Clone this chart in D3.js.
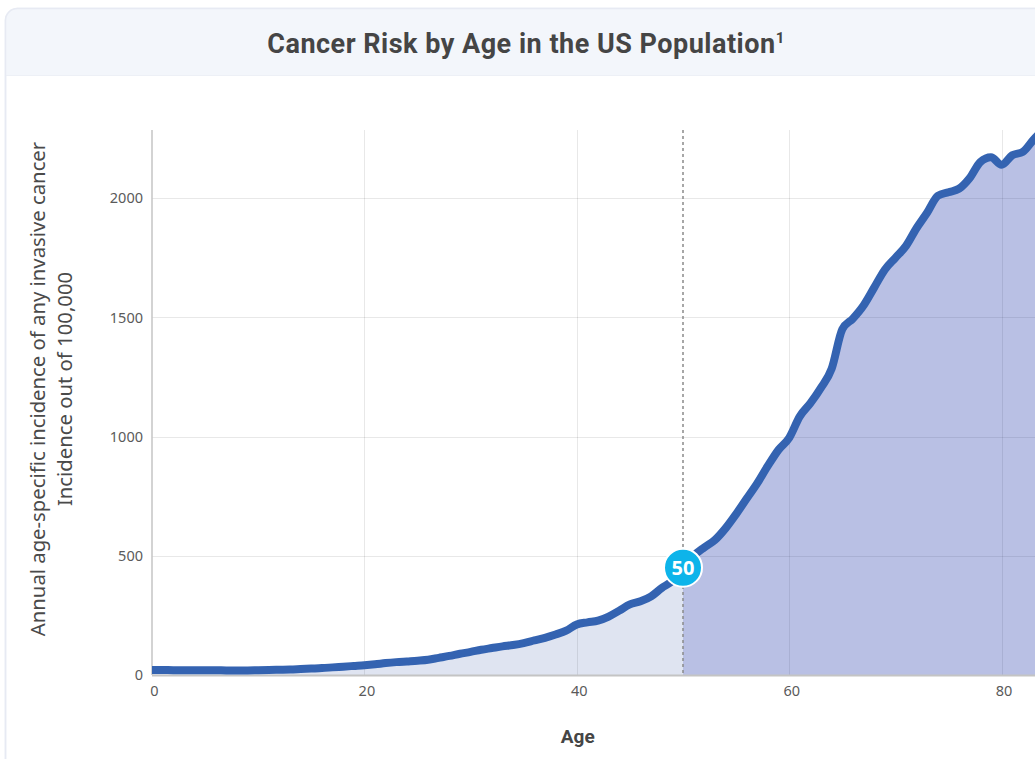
<!DOCTYPE html>
<html>
<head>
<meta charset="utf-8">
<script src="https://cdn.jsdelivr.net/npm/d3@7"></script>
<style>
  html, body { margin: 0; padding: 0; background: #ffffff; overflow: hidden; }
  svg { display: block; }
</style>
</head>
<body>
<svg id="chart" width="1035" height="759"></svg>
<script>
// ---- data ----
const title = "Cancer Risk by Age in the US Population";
const titleSup = "1";
const yTitleLine1 = "Annual age-specific incidence of any invasive cancer";
const yTitleLine2 = "Incidence out of 100,000";
const xTitle = "Age";

const ages = [0,1,2,3,4,5,6,7,8,9,10,11,12,13,14,15,16,17,18,19,20,21,22,23,24,25,26,27,28,29,30,31,32,33,34,35,36,37,38,39,40,41,42,43,44,45,46,47,48,49,50,51,52,53,54,55,56,57,58,59,60,61,62,63,64,65,66,67,68,69,70,71,72,73,74,75,76,77,78,79,80,81,82,83,84,85];
const incidence = [21,21,20,20,20,20,20,19,19,19,20,21,22,23,25,27,29,32,35,38,41,45,50,54,57,60,64,72,80,89,97,106,113,120,126,134,145,156,170,186,212,221,228,245,270,296,309,330,365,395,450,500,535,566,615,675,740,805,878,945,995,1085,1140,1205,1285,1450,1495,1550,1625,1700,1750,1800,1875,1940,2010,2025,2040,2085,2152,2172,2140,2180,2194,2245,2290,2330];

const xTicks = [0, 20, 40, 60, 80];
const yTicks = [0, 500, 1000, 1500, 2000];
const markerAge = 50;
const markerLabel = "50";

// ---- layout ----
const svg = d3.select("#chart");
const plotLeft = 152, plotTop = 130, plotBottom = 675;
const pxPerYear = 10.62;
const xMax = 85;

const x = d3.scaleLinear().domain([0, xMax]).range([plotLeft, plotLeft + xMax * pxPerYear]);
const y = d3.scaleLinear().domain([0, 2286]).range([plotBottom, plotTop]);

const data = ages.map((a, i) => ({ age: a, v: incidence[i] }));

// ---- card ----
const cardX = 5.5, cardY = 8.5, cardW = 1200, cardH = 800, r = 12;
svg.append("rect").attr("x", cardX).attr("y", cardY).attr("width", cardW).attr("height", cardH)
  .attr("rx", r).attr("fill", "#ffffff").attr("stroke", "#e7eaf3").attr("stroke-width", 1.5);
svg.append("clipPath").attr("id", "hdrClip").append("rect")
  .attr("x", cardX).attr("y", cardY).attr("width", cardW).attr("height", cardH).attr("rx", r);
svg.append("rect").attr("x", cardX).attr("y", cardY).attr("width", cardW).attr("height", 67)
  .attr("fill", "#f3f6fb").attr("clip-path", "url(#hdrClip)");
svg.append("line").attr("x1", cardX).attr("x2", cardX + cardW).attr("y1", 75.5).attr("y2", 75.5)
  .attr("stroke", "#edf0f6").attr("stroke-width", 1);
svg.append("rect").attr("x", cardX).attr("y", cardY).attr("width", cardW).attr("height", cardH)
  .attr("rx", r).attr("fill", "none").attr("stroke", "#e7eaf3").attr("stroke-width", 1.5);

// title
const t = svg.append("text").attr("x", 526).attr("y", 53).attr("text-anchor", "middle")
  .attr("font-family", "Roboto, 'Noto Sans', sans-serif").attr("font-weight", 700)
  .attr("font-size", 27).attr("letter-spacing", 0.5).attr("fill", "#454545");
t.append("tspan").text(title);
t.append("tspan").attr("font-size", 15).attr("dy", -10).text(titleSup);

// ---- grid ----
const grid = svg.append("g");
grid.selectAll("line.h").data(yTicks.filter(d => d > 0)).join("line")
  .attr("x1", plotLeft).attr("x2", 1100)
  .attr("y1", d => Math.round(y(d)) + 0.5).attr("y2", d => Math.round(y(d)) + 0.5)
  .attr("stroke", "#000").attr("stroke-opacity", 0.06).attr("stroke-width", 1);
grid.selectAll("line.v").data(xTicks.filter(d => d > 0)).join("line")
  .attr("x1", d => Math.round(x(d)) + 0.5).attr("x2", d => Math.round(x(d)) + 0.5)
  .attr("y1", plotTop).attr("y2", plotBottom)
  .attr("stroke", "#000").attr("stroke-opacity", 0.06).attr("stroke-width", 1);

// ---- areas ----
const area = d3.area().x(d => x(d.age)).y0(y(0)).y1(d => y(d.v)).curve(d3.curveMonotoneX);
const line = d3.line().x(d => x(d.age)).y(d => y(d.v)).curve(d3.curveMonotoneX);

const defs = svg.append("defs");
defs.append("clipPath").attr("id", "leftClip").append("rect")
  .attr("x", plotLeft).attr("y", 0).attr("width", x(markerAge) - plotLeft).attr("height", plotBottom);
defs.append("clipPath").attr("id", "rightClip").append("rect")
  .attr("x", x(markerAge)).attr("y", 0).attr("width", 2000).attr("height", plotBottom);

svg.append("path").datum(data).attr("d", area).attr("fill", "#3a5aa8").attr("fill-opacity", 0.16)
  .attr("clip-path", "url(#leftClip)");
svg.append("path").datum(data).attr("d", area).attr("fill", "#3e51b5").attr("fill-opacity", 0.36)
  .attr("clip-path", "url(#rightClip)");

// grid on top of fill (subtle)
const grid2 = svg.append("g");
grid2.selectAll("line").data(yTicks.filter(d => d > 0)).join("line")
  .attr("x1", plotLeft).attr("x2", 1100)
  .attr("y1", d => Math.round(y(d)) + 0.5).attr("y2", d => Math.round(y(d)) + 0.5)
  .attr("stroke", "#000").attr("stroke-opacity", 0.03);
grid2.selectAll("line.v").data(xTicks.filter(d => d > 0)).join("line")
  .attr("x1", d => Math.round(x(d)) + 0.5).attr("x2", d => Math.round(x(d)) + 0.5)
  .attr("y1", plotTop).attr("y2", plotBottom)
  .attr("stroke", "#000").attr("stroke-opacity", 0.03);

// dashed marker line
svg.append("line").attr("x1", x(markerAge)).attr("x2", x(markerAge))
  .attr("y1", plotTop).attr("y2", plotBottom)
  .attr("stroke", "#8a8a8a").attr("stroke-width", 1.5).attr("stroke-dasharray", "3,3");

// ---- axes ----
const fontTick = "'Noto Sans', 'DejaVu Sans', sans-serif";
const yAxis = svg.append("g").attr("transform", `translate(${plotLeft},0)`)
  .call(d3.axisLeft(y).tickValues(yTicks).tickFormat(d3.format("d")).tickSize(0).tickPadding(9));
yAxis.select(".domain").remove();
yAxis.selectAll("text").attr("font-family", fontTick).attr("font-size", 14.5).attr("fill", "#5a5a5a");

const xAxis = svg.append("g").attr("transform", `translate(0,${plotBottom})`)
  .call(d3.axisBottom(x).tickValues(xTicks).tickFormat(d3.format("d")).tickSize(0).tickPadding(11));
xAxis.select(".domain").remove();
xAxis.selectAll("text").attr("font-family", fontTick).attr("font-size", 14.5).attr("fill", "#5a5a5a")
  .attr("dx", 2);

svg.append("line").attr("x1", plotLeft).attr("x2", plotLeft).attr("y1", plotTop).attr("y2", plotBottom)
  .attr("stroke", "#c4c4c4").attr("stroke-width", 1.5);
svg.append("line").attr("x1", plotLeft).attr("x2", 1100).attr("y1", plotBottom + 0.5).attr("y2", plotBottom + 0.5)
  .attr("stroke", "#c4c4c4").attr("stroke-width", 2);

// ---- line ----
svg.append("path").datum(data).attr("d", line).attr("fill", "none")
  .attr("stroke", "#3463b1").attr("stroke-width", 8).attr("stroke-linecap", "butt").attr("stroke-linejoin", "round");

// ---- marker ----
const mv = incidence[ages.indexOf(markerAge)];
svg.append("circle").attr("cx", x(markerAge)).attr("cy", y(mv)).attr("r", 19)
  .attr("fill", "#0db4ea").attr("stroke", "#ffffff").attr("stroke-width", 2);
svg.append("text").attr("x", x(markerAge)).attr("y", y(mv)).attr("dy", "0.36em")
  .attr("text-anchor", "middle").attr("font-family", "'Open Sans', 'Noto Sans', sans-serif")
  .attr("font-weight", 700).attr("font-size", 20).attr("fill", "#ffffff").text(markerLabel);

// ---- axis titles ----
const yt = svg.append("text").attr("transform", "translate(45,389) rotate(-90)")
  .attr("text-anchor", "middle").attr("font-family", "'Noto Sans', 'Open Sans', sans-serif")
  .attr("font-size", 20.3).attr("fill", "#4a4a4a");
yt.append("tspan").attr("x", 0).attr("y", 0).text(yTitleLine1);
yt.append("tspan").attr("x", 0).attr("y", 27).text(yTitleLine2);

svg.append("text").attr("x", x(40) + 1).attr("y", 743).attr("text-anchor", "middle")
  .attr("font-family", "Roboto, 'Noto Sans', sans-serif").attr("font-weight", 700)
  .attr("font-size", 19).attr("fill", "#454545").text(xTitle);
</script>
</body>
</html>
